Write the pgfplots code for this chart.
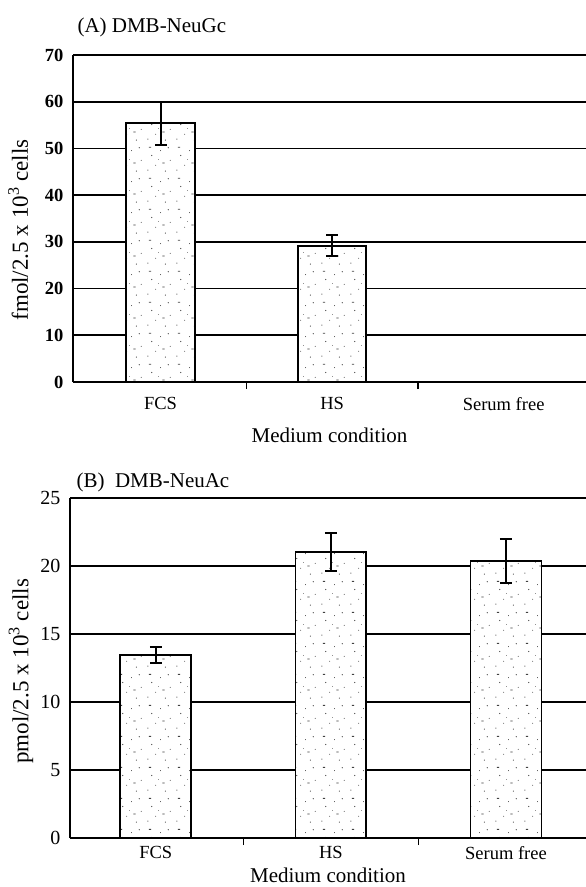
\documentclass[border=0pt]{standalone}
\usepackage{fontspec}
\setmainfont{Liberation Serif}
\usepackage{pgfplots}
\pgfplotsset{compat=1.18}
\usetikzlibrary{patterns}

% sparse stipple for the bars
\pgfdeclarepatternformonly{stipple}{\pgfqpoint{0bp}{0bp}}{\pgfqpoint{29bp}{31bp}}{\pgfqpoint{29bp}{31bp}}{%
  \pgfpathcircle{\pgfqpoint{3bp}{4bp}}{0.6bp}
  \pgfpathcircle{\pgfqpoint{11bp}{9bp}}{0.5bp}
  \pgfpathcircle{\pgfqpoint{21bp}{3bp}}{0.6bp}
  \pgfpathcircle{\pgfqpoint{26bp}{14bp}}{0.5bp}
  \pgfpathcircle{\pgfqpoint{7bp}{19bp}}{0.6bp}
  \pgfpathcircle{\pgfqpoint{16bp}{24bp}}{0.5bp}
  \pgfpathcircle{\pgfqpoint{24bp}{27bp}}{0.6bp}
  \pgfpathcircle{\pgfqpoint{14bp}{15bp}}{0.4bp}
  \pgfpathrectangle{\pgfqpoint{4bp}{27bp}}{\pgfqpoint{2.2bp}{0.8bp}}
  \pgfpathrectangle{\pgfqpoint{18bp}{11bp}}{\pgfqpoint{2.2bp}{0.8bp}}
  \pgfusepath{fill}}

\newcommand{\tickfont}{\fontsize{18.5bp}{20bp}\selectfont}
\newcommand{\labfont}{\fontsize{21bp}{23bp}\selectfont}
\newcommand{\ylabfont}{\fontsize{23bp}{25bp}\selectfont}

\pgfplotsset{
  panel/.style={
    scale only axis,
    clip=false,
    axis x line*=bottom, axis y line*=left,
    axis line style={line width=1.8bp, black},
    ymajorgrids, grid style={line width=1.6bp, black},
    xtick={0,1,2}, xticklabels={FCS,HS,Serum free},
    minor xtick={0.5,1.5},
    major tick length=0pt, minor tick length=7bp,
    tick align=inside,
    tick style={line width=1.5bp, black},
    /pgf/number format/assume math mode=true,
    ticklabel style={font=\tickfont},
    yticklabel style={xshift=-6bp},
    label style={font=\labfont},
    ylabel style={font=\ylabfont},
    xlabel={Medium condition},
    ybar, bar shift=0pt,
    ymin=0,
  },
  bars/.style={
    fill=white, draw=black, line width=1.8bp,
    postaction={pattern=stipple, pattern color=black!75},
    error bars/.cd, y dir=both, y explicit,
    error bar style={line width=2bp, black},
    error mark options={rotate=90, mark size=6bp, line width=2bp, black},
  },
}

\begin{document}
\begin{tikzpicture}
\path[use as bounding box] (0,0) rectangle (586bp,-887bp);

% (A) DMB-NeuGc
\begin{axis}[panel,
  at={(73bp,-382bp)}, anchor=south west,
  width=513bp, height=327bp,
  xmin=-0.51, xmax=2.48,
  ymax=70, ytick={0,10,...,70},
  yticklabel style={font=\tickfont\bfseries},
  xticklabel style={yshift=-12bp},
  xlabel style={yshift=-10bp},
  bar width=0.40,
  ylabel={fmol/2.5 x 10\textsuperscript{3} cells},
  ylabel style={at={(axis description cs:-0.107,0.465)}, anchor=center},
]
\addplot[bars] coordinates {(0,55.4) +- (0,4.6) (1,29.2) +- (0,2.3)};
\node[anchor=base west, font=\labfont, yshift=23bp, xshift=1bp] at (rel axis cs:0,1) {(A) DMB-NeuGc};
\end{axis}

% (B) DMB-NeuAc
\begin{axis}[panel,
  at={(70bp,-838bp)}, anchor=south west,
  width=516bp, height=340bp,
  xmin=-0.49, xmax=2.457,
  ymax=25, ytick={0,5,...,25},
  yticklabel style={font=\fontsize{20bp}{22bp}\selectfont},
  xticklabel style={yshift=-5bp},
  xlabel style={yshift=-1bp},
  bar width=0.405,
  ylabel={pmol/2.5 x 10\textsuperscript{3} cells},
  ylabel style={at={(axis description cs:-0.095,0.49)}, anchor=center},
]
\addplot[bars] coordinates {(0,13.46) +- (0,0.6) (1,21.05) +- (0,1.4) (2,20.37) +- (0,1.6)};
\node[anchor=base west, font=\labfont, yshift=11bp, xshift=3bp] at (rel axis cs:0,1) {(B)\ \ DMB-NeuAc};
\end{axis}
\end{tikzpicture}
\end{document}
